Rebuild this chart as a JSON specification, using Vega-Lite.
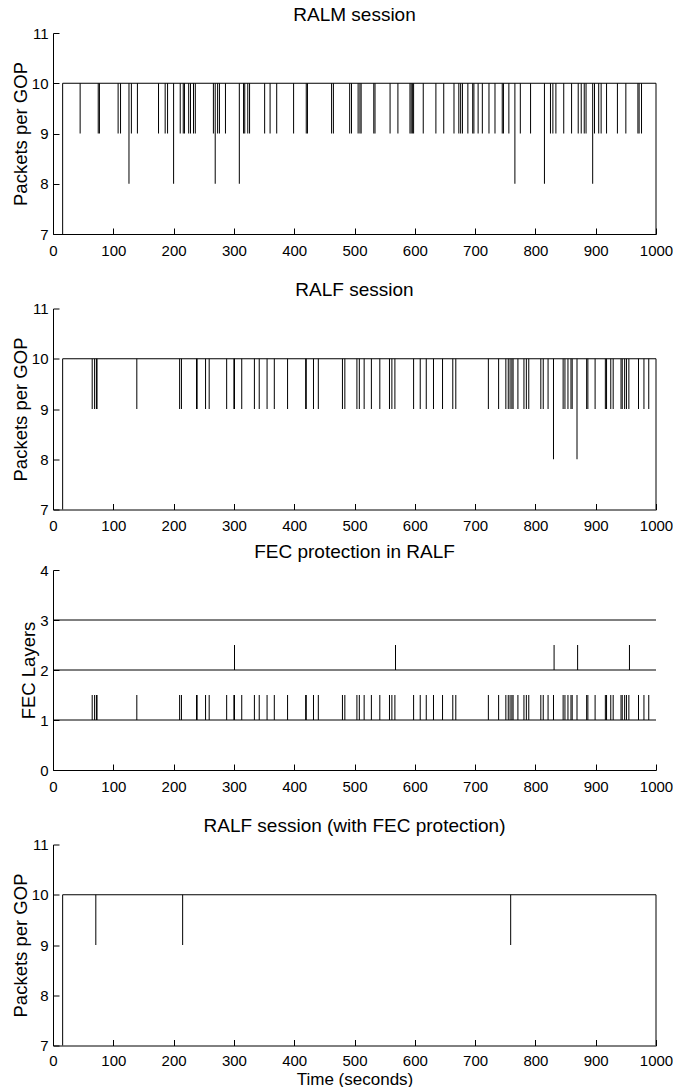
{
  "$schema": "https://vega.github.io/schema/vega-lite/v6.json",
  "background": "white",
  "padding": {"left": 11, "top": 5, "right": 0, "bottom": 0},
  "config": {
    "view": {"stroke": null},
    "font": "Liberation Sans",
    "axis": {"grid": false, "domainColor": "#000", "tickColor": "#000", "labelColor": "#000", "titleColor": "#000", "labelFont": "Liberation Sans", "titleFont": "Liberation Sans", "labelFontSize": 15, "titleFontSize": 18.5, "titleFontWeight": "normal", "tickSize": -6, "domainWidth": 1, "tickWidth": 1, "labelFlush": false, "labelOverlap": false, "format": "d"},
    "axisX": {"labelPadding": 15, "titlePadding": 3, "titleFontSize": 17},
    "axisY": {"labelPadding": 11, "titlePadding": 1},
    "title": {"font": "Liberation Sans", "fontSize": 19, "fontWeight": "normal", "color": "#000", "frame": "group", "anchor": "middle", "offset": 1.5},
    "rule": {"color": "#000", "strokeWidth": 1}
  },
  "datasets": {
    "seg10": [{"t": 16, "t1": 1000, "v": 10}],
    "p1": [{"t":16,"v":7},{"t":45,"v":9},{"t":75,"v":9},{"t":77,"v":9},{"t":108,"v":9},{"t":112,"v":9},{"t":126,"v":8},{"t":130,"v":9},{"t":140,"v":9},{"t":175,"v":9},{"t":186,"v":9},{"t":190,"v":9},{"t":200,"v":8},{"t":211,"v":9},{"t":216,"v":9},{"t":218,"v":9},{"t":225,"v":9},{"t":228,"v":9},{"t":233,"v":9},{"t":236,"v":9},{"t":266,"v":9},{"t":269,"v":8},{"t":273,"v":9},{"t":276,"v":9},{"t":286,"v":9},{"t":309,"v":8},{"t":316,"v":9},{"t":318,"v":9},{"t":323,"v":9},{"t":326,"v":9},{"t":351,"v":9},{"t":360,"v":9},{"t":371,"v":9},{"t":399,"v":9},{"t":420,"v":9},{"t":422,"v":9},{"t":462,"v":9},{"t":465,"v":9},{"t":492,"v":9},{"t":495,"v":9},{"t":506,"v":9},{"t":509,"v":9},{"t":511,"v":9},{"t":532,"v":9},{"t":534,"v":9},{"t":559,"v":9},{"t":572,"v":9},{"t":592,"v":9},{"t":594,"v":9},{"t":596,"v":9},{"t":598,"v":9},{"t":614,"v":9},{"t":635,"v":9},{"t":648,"v":9},{"t":665,"v":9},{"t":673,"v":9},{"t":676,"v":9},{"t":679,"v":9},{"t":688,"v":9},{"t":696,"v":9},{"t":698,"v":9},{"t":705,"v":9},{"t":712,"v":9},{"t":723,"v":9},{"t":733,"v":9},{"t":745,"v":9},{"t":747,"v":9},{"t":756,"v":9},{"t":766,"v":8},{"t":775,"v":9},{"t":792,"v":9},{"t":815,"v":8},{"t":825,"v":9},{"t":829,"v":9},{"t":834,"v":9},{"t":847,"v":9},{"t":860,"v":9},{"t":871,"v":9},{"t":876,"v":9},{"t":881,"v":9},{"t":884,"v":9},{"t":895,"v":8},{"t":898,"v":9},{"t":905,"v":9},{"t":909,"v":9},{"t":918,"v":9},{"t":936,"v":9},{"t":950,"v":9},{"t":970,"v":9},{"t":972,"v":9},{"t":976,"v":9},{"t":1000,"v":7}],
    "p2": [{"t":16,"v":7},{"t":65,"v":9},{"t":69,"v":9},{"t":72,"v":9},{"t":73,"v":9},{"t":139,"v":9},{"t":210,"v":9},{"t":213,"v":9},{"t":238,"v":9},{"t":239,"v":9},{"t":253,"v":9},{"t":259,"v":9},{"t":288,"v":9},{"t":300,"v":9},{"t":301,"v":9},{"t":313,"v":9},{"t":334,"v":9},{"t":342,"v":9},{"t":355,"v":9},{"t":367,"v":9},{"t":389,"v":9},{"t":419,"v":9},{"t":420,"v":9},{"t":432,"v":9},{"t":440,"v":9},{"t":480,"v":9},{"t":484,"v":9},{"t":504,"v":9},{"t":508,"v":9},{"t":516,"v":9},{"t":528,"v":9},{"t":542,"v":9},{"t":558,"v":9},{"t":562,"v":9},{"t":567,"v":9},{"t":598,"v":9},{"t":609,"v":9},{"t":619,"v":9},{"t":631,"v":9},{"t":646,"v":9},{"t":663,"v":9},{"t":668,"v":9},{"t":722,"v":9},{"t":739,"v":9},{"t":751,"v":9},{"t":755,"v":9},{"t":758,"v":9},{"t":761,"v":9},{"t":763,"v":9},{"t":771,"v":9},{"t":781,"v":9},{"t":785,"v":9},{"t":789,"v":9},{"t":809,"v":9},{"t":813,"v":9},{"t":821,"v":9},{"t":830,"v":8},{"t":846,"v":9},{"t":849,"v":9},{"t":854,"v":9},{"t":859,"v":9},{"t":861,"v":9},{"t":869,"v":8},{"t":885,"v":9},{"t":887,"v":9},{"t":899,"v":9},{"t":916,"v":9},{"t":918,"v":9},{"t":925,"v":9},{"t":929,"v":9},{"t":942,"v":9},{"t":944,"v":9},{"t":948,"v":9},{"t":951,"v":9},{"t":955,"v":9},{"t":971,"v":9},{"t":980,"v":9},{"t":988,"v":9},{"t":1000,"v":7}],
    "fecseg": [{"t": 0, "t1": 1000, "v": 1}, {"t": 0, "t1": 1000, "v": 2}, {"t": 0, "t1": 1000, "v": 3}],
    "fec": [{"t":65,"v":1,"v2":1.5},{"t":69,"v":1,"v2":1.5},{"t":72,"v":1,"v2":1.5},{"t":73,"v":1,"v2":1.5},{"t":139,"v":1,"v2":1.5},{"t":210,"v":1,"v2":1.5},{"t":213,"v":1,"v2":1.5},{"t":238,"v":1,"v2":1.5},{"t":239,"v":1,"v2":1.5},{"t":253,"v":1,"v2":1.5},{"t":259,"v":1,"v2":1.5},{"t":288,"v":1,"v2":1.5},{"t":300,"v":1,"v2":1.5},{"t":301,"v":1,"v2":1.5},{"t":313,"v":1,"v2":1.5},{"t":334,"v":1,"v2":1.5},{"t":342,"v":1,"v2":1.5},{"t":355,"v":1,"v2":1.5},{"t":367,"v":1,"v2":1.5},{"t":389,"v":1,"v2":1.5},{"t":419,"v":1,"v2":1.5},{"t":420,"v":1,"v2":1.5},{"t":432,"v":1,"v2":1.5},{"t":440,"v":1,"v2":1.5},{"t":480,"v":1,"v2":1.5},{"t":484,"v":1,"v2":1.5},{"t":504,"v":1,"v2":1.5},{"t":508,"v":1,"v2":1.5},{"t":516,"v":1,"v2":1.5},{"t":528,"v":1,"v2":1.5},{"t":542,"v":1,"v2":1.5},{"t":558,"v":1,"v2":1.5},{"t":562,"v":1,"v2":1.5},{"t":567,"v":1,"v2":1.5},{"t":598,"v":1,"v2":1.5},{"t":609,"v":1,"v2":1.5},{"t":619,"v":1,"v2":1.5},{"t":631,"v":1,"v2":1.5},{"t":646,"v":1,"v2":1.5},{"t":663,"v":1,"v2":1.5},{"t":668,"v":1,"v2":1.5},{"t":722,"v":1,"v2":1.5},{"t":739,"v":1,"v2":1.5},{"t":751,"v":1,"v2":1.5},{"t":755,"v":1,"v2":1.5},{"t":758,"v":1,"v2":1.5},{"t":761,"v":1,"v2":1.5},{"t":763,"v":1,"v2":1.5},{"t":771,"v":1,"v2":1.5},{"t":781,"v":1,"v2":1.5},{"t":785,"v":1,"v2":1.5},{"t":789,"v":1,"v2":1.5},{"t":809,"v":1,"v2":1.5},{"t":813,"v":1,"v2":1.5},{"t":821,"v":1,"v2":1.5},{"t":830,"v":1,"v2":1.5},{"t":846,"v":1,"v2":1.5},{"t":849,"v":1,"v2":1.5},{"t":854,"v":1,"v2":1.5},{"t":859,"v":1,"v2":1.5},{"t":861,"v":1,"v2":1.5},{"t":869,"v":1,"v2":1.5},{"t":885,"v":1,"v2":1.5},{"t":887,"v":1,"v2":1.5},{"t":899,"v":1,"v2":1.5},{"t":916,"v":1,"v2":1.5},{"t":918,"v":1,"v2":1.5},{"t":925,"v":1,"v2":1.5},{"t":929,"v":1,"v2":1.5},{"t":942,"v":1,"v2":1.5},{"t":944,"v":1,"v2":1.5},{"t":948,"v":1,"v2":1.5},{"t":951,"v":1,"v2":1.5},{"t":955,"v":1,"v2":1.5},{"t":971,"v":1,"v2":1.5},{"t":980,"v":1,"v2":1.5},{"t":988,"v":1,"v2":1.5},{"t":301,"v":2,"v2":2.5},{"t":568,"v":2,"v2":2.5},{"t":831,"v":2,"v2":2.5},{"t":870,"v":2,"v2":2.5},{"t":956,"v":2,"v2":2.5}],
    "p4": [{"t":16,"v":7},{"t":71,"v":9},{"t":215,"v":9},{"t":759,"v":9},{"t":1000,"v":7}]
  },
  "spacing": 8.5,
  "vconcat": [
    {
      "width": 603, "height": 201,
      "title": "RALM session",
      "encoding": {
        "x": {"field": "t", "type": "quantitative", "scale": {"domain": [0, 1000], "nice": false}, "axis": {"values": [0,100,200,300,400,500,600,700,800,900,1000], "title": " ", "titleFontSize": 14, "titlePadding": 0}},
        "y": {"field": "v", "type": "quantitative", "scale": {"domain": [7, 11], "nice": false, "zero": false}, "axis": {"values": [7,8,9,10,11], "title": "Packets per GOP"}}
      },
      "layer": [
        {"data": {"name": "seg10"}, "mark": "rule", "encoding": {"x2": {"field": "t1"}}},
        {"data": {"name": "p1"}, "mark": "rule", "encoding": {"y2": {"datum": 10}}}
      ]
    },
    {
      "width": 603, "height": 201,
      "title": "RALF session",
      "encoding": {
        "x": {"field": "t", "type": "quantitative", "scale": {"domain": [0, 1000], "nice": false}, "axis": {"values": [0,100,200,300,400,500,600,700,800,900,1000], "title": null}},
        "y": {"field": "v", "type": "quantitative", "scale": {"domain": [7, 11], "nice": false, "zero": false}, "axis": {"values": [7,8,9,10,11], "title": "Packets per GOP"}}
      },
      "layer": [
        {"data": {"name": "seg10"}, "mark": "rule", "encoding": {"x2": {"field": "t1"}}},
        {"data": {"name": "p2"}, "mark": "rule", "encoding": {"y2": {"datum": 10}}}
      ]
    },
    {
      "width": 603, "height": 200,
      "title": "FEC protection in RALF",
      "encoding": {
        "x": {"field": "t", "type": "quantitative", "scale": {"domain": [0, 1000], "nice": false}, "axis": {"values": [0,100,200,300,400,500,600,700,800,900,1000], "title": " ", "titleFontSize": 14, "titlePadding": 0}},
        "y": {"field": "v", "type": "quantitative", "scale": {"domain": [0, 4], "nice": false}, "axis": {"values": [0,1,2,3,4], "title": "FEC Layers"}}
      },
      "layer": [
        {"data": {"name": "fecseg"}, "mark": "rule", "encoding": {"x2": {"field": "t1"}}},
        {"data": {"name": "fec"}, "mark": "rule", "encoding": {"y2": {"field": "v2"}}}
      ]
    },
    {
      "width": 603, "height": 201,
      "title": "RALF session (with FEC protection)",
      "encoding": {
        "x": {"field": "t", "type": "quantitative", "scale": {"domain": [0, 1000], "nice": false}, "axis": {"values": [0,100,200,300,400,500,600,700,800,900,1000], "title": "Time (seconds)", "labelPadding": 13.5}},
        "y": {"field": "v", "type": "quantitative", "scale": {"domain": [7, 11], "nice": false, "zero": false}, "axis": {"values": [7,8,9,10,11], "title": "Packets per GOP"}}
      },
      "layer": [
        {"data": {"name": "seg10"}, "mark": "rule", "encoding": {"x2": {"field": "t1"}}},
        {"data": {"name": "p4"}, "mark": "rule", "encoding": {"y2": {"datum": 10}}}
      ]
    }
  ]
}
